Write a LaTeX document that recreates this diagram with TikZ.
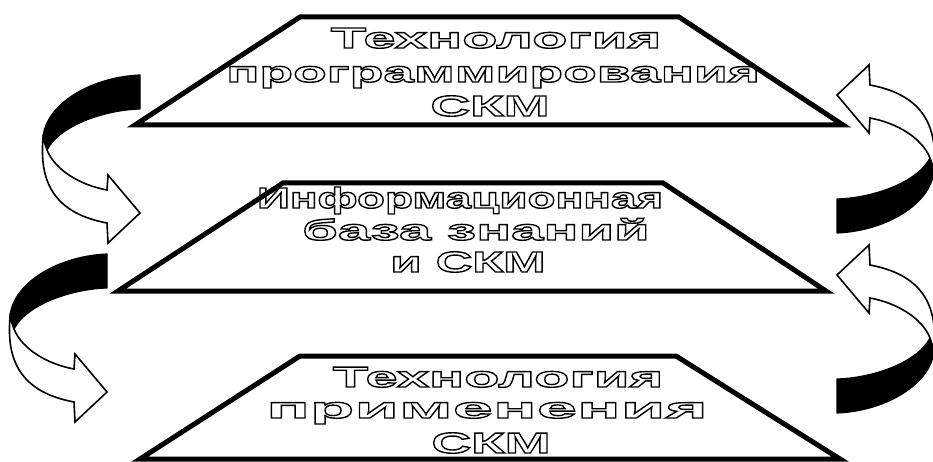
\documentclass[tikz,border=0pt]{standalone}
\usepackage{fontspec}
\newfontfamily\fA[FakeStretch=1.58]{Liberation Sans}
\newfontfamily\fB[FakeStretch=1.75]{Liberation Sans}
\newfontfamily\fC[FakeStretch=1.9]{Liberation Sans}
\newfontfamily\fD[FakeStretch=2.0]{Liberation Sans}
\newfontfamily\fE[FakeStretch=2.5]{Liberation Sans}
\newcommand\hollow[1]{\special{pdf:literal direct 1 Tr 1.4 w}#1\special{pdf:literal direct 0 Tr}}
\tikzset{
  plate/.style={draw=black, line width=5pt, line join=miter, miter limit=4},
  lbl/.style={anchor=base, inner sep=0pt, font=\bfseries\fontsize{29}{33}\selectfont},
  backside/.style={fill=black, draw=black, line width=1.2pt, line join=round},
  frontside/.style={fill=white, draw=black, line width=1.6pt, line join=miter},
  pics/turnarrow/.style={code={
    \path[backside] (140,75) -- (140,109)
       .. controls (105,110) and (60,125) .. (47,150) -- (43,138)
       .. controls (45,105) and (90,77) .. (140,75) -- cycle;
    \path[frontside] (43,138) .. controls (40,175) and (48,212) .. (107,223)
       -- (108,243) -- (140,213) -- (108,175) -- (107,190)
       .. controls (80,185) and (55,170) .. (47,150) -- cycle;
  }}
}
\begin{document}
\begin{tikzpicture}[x=1pt,y=-1pt]
\useasboundingbox (0,0) rectangle (933,462);
% plates
\draw[plate] (300,17) -- (679,17) -- (843,125) -- (135,125) -- cycle;
\draw[plate] (283,183) -- (663,183) -- (826,291) -- (118,291) -- cycle;
\draw[plate] (300,356) -- (676,356) -- (840,459) -- (140,459) -- cycle;
% turning arrows
\pic at (0,0) {turnarrow};
\pic at (-33,179) {turnarrow};
\pic[rotate=180] at (977,308) {turnarrow};
\pic[rotate=180] at (977,488) {turnarrow};
% labels
\node[lbl] (t1) at (496,48)  {\fD\hollow{Технология}};
\node[lbl] (t2) at (493,82)  {\fC\hollow{программирования}};
\node[lbl] (t3) at (490,116) {\fC\hollow{СКМ}};
\node[lbl] (m1) at (460,208) {\fA\hollow{Информационная}};
\node[lbl] (m2) at (476,240) {\fD\hollow{база знаний}};
\node[lbl] (m3) at (468,272) {\fB\hollow{и СКМ}};
\node[lbl] (b1) at (498,387) {\fD\hollow{Технология}};
\node[lbl] (b2) at (487,418) {\fE\hollow{применения}};
\node[lbl] (b3) at (491,453) {\fC\hollow{СКМ}};
\end{tikzpicture}
\end{document}
